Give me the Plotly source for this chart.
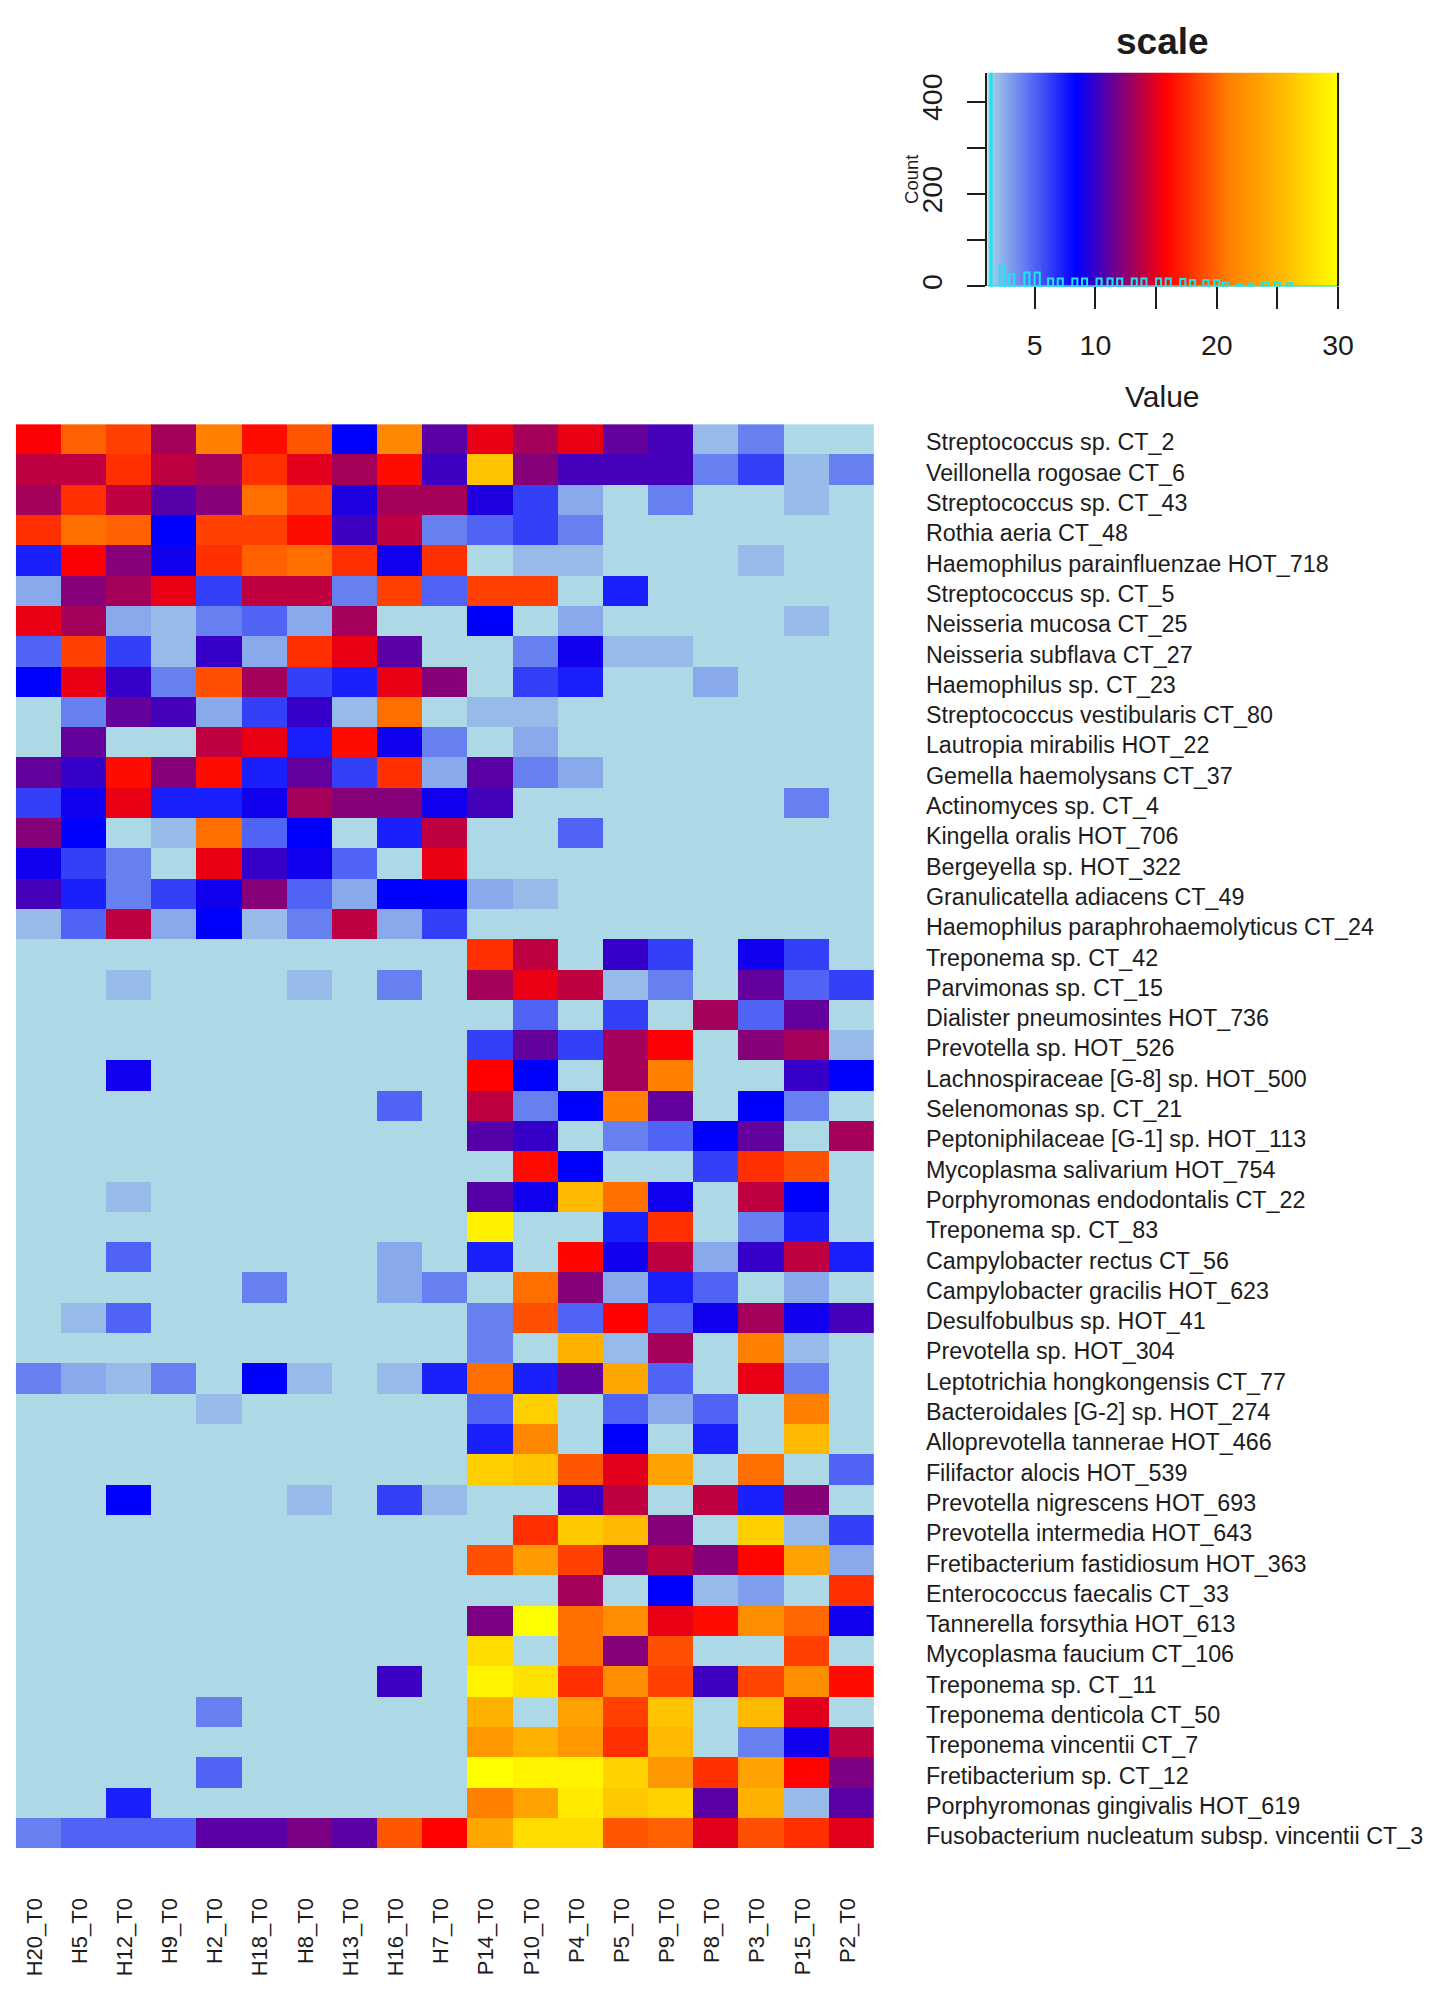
import numpy as np
import plotly.graph_objects as go

W, H = 1449, 1989

samples = ["H20_T0","H5_T0","H12_T0","H9_T0","H2_T0","H18_T0","H8_T0","H13_T0","H16_T0","H7_T0",
           "P14_T0","P10_T0","P4_T0","P5_T0","P9_T0","P8_T0","P3_T0","P15_T0","P2_T0"]

taxa = ["Streptococcus sp. CT_2","Veillonella rogosae CT_6","Streptococcus sp. CT_43","Rothia aeria CT_48",
        "Haemophilus parainfluenzae HOT_718","Streptococcus sp. CT_5","Neisseria mucosa CT_25",
        "Neisseria subflava CT_27","Haemophilus sp. CT_23","Streptococcus vestibularis CT_80",
        "Lautropia mirabilis HOT_22","Gemella haemolysans CT_37","Actinomyces sp. CT_4","Kingella oralis HOT_706",
        "Bergeyella sp. HOT_322","Granulicatella adiacens CT_49","Haemophilus paraphrohaemolyticus CT_24",
        "Treponema sp. CT_42","Parvimonas sp. CT_15","Dialister pneumosintes HOT_736","Prevotella sp. HOT_526",
        "Lachnospiraceae [G-8] sp. HOT_500","Selenomonas sp. CT_21","Peptoniphilaceae [G-1] sp. HOT_113",
        "Mycoplasma salivarium HOT_754","Porphyromonas endodontalis CT_22","Treponema sp. CT_83",
        "Campylobacter rectus CT_56","Campylobacter gracilis HOT_623","Desulfobulbus sp. HOT_41",
        "Prevotella sp. HOT_304","Leptotrichia hongkongensis CT_77","Bacteroidales [G-2] sp. HOT_274",
        "Alloprevotella tannerae HOT_466","Filifactor alocis HOT_539","Prevotella nigrescens HOT_693",
        "Prevotella intermedia HOT_643","Fretibacterium fastidiosum HOT_363","Enterococcus faecalis CT_33",
        "Tannerella forsythia HOT_613","Mycoplasma faucium CT_106","Treponema sp. CT_11","Treponema denticola CT_50",
        "Treponema vincentii CT_7","Fretibacterium sp. CT_12","Porphyromonas gingivalis HOT_619",
        "Fusobacterium nucleatum subsp. vincentii CT_3"]

values = [
 [15.7,19.7,18.4,13.2,21,16.3,19.3,8.4,21.5,11,15.2,13.2,15.2,11.3,10.4,2,4,1,1],
 [13.9,13.9,17.7,13.9,13.2,17.7,15,13.2,16.3,10.2,26,12.3,10.4,10.4,10.4,4,6.2,2,4],
 [13.2,17.7,13.9,10.9,12.3,20.3,18.4,9.3,13.2,13.2,9.3,6.2,2.6,1,4,1,1,2,1],
 [17.7,20.3,19.7,8.4,18.4,18.4,16.3,10.2,13.9,4,5,6.2,4,1,1,1,1,1,1],
 [7.3,15.7,12.3,8.9,17.7,19.7,20.3,17.7,8.9,17.7,1,2,2,1,1,1,2,1,1],
 [2.6,12.3,13.2,15.2,6.2,13.9,13.9,4,18.4,5,18.4,18.4,1,7.3,1,1,1,1,1],
 [15.2,13.2,2.6,2,4,5,2.6,13.2,1,1,8.4,1,2.6,1,1,1,1,2,1],
 [5,18.4,6.2,2,10,2.6,17.7,15.2,11,1,1,4,8.9,2,2,1,1,1,1],
 [8.4,15.2,10,4,19,13.2,6.2,7.3,15.2,12.3,1,6.2,7.3,1,1,2.6,1,1,1],
 [1,4,11.3,10.4,2.6,6.2,10,2,20.3,1,2,2,1,1,1,1,1,1,1],
 [1,11.3,1,1,13.9,15.2,7.3,16.3,8.9,4,1,2.6,1,1,1,1,1,1,1],
 [11.3,10,16.3,12.3,16.3,7.3,11.3,6.2,17.7,2.6,11,4,2.6,1,1,1,1,1,1],
 [6.2,8.9,15.2,7.3,7.3,8.9,13.2,12.3,12.3,8.9,10.4,1,1,1,1,1,1,4,1],
 [12.3,8.4,1,2,20.3,5,8.4,1,7.3,13.9,1,1,5,1,1,1,1,1,1],
 [8.9,6.2,4,1,15.2,10,8.9,5,1,15.2,1,1,1,1,1,1,1,1,1],
 [10.4,7.3,4,6.2,8.9,12.3,5,2.6,8.4,8.4,2.6,2,1,1,1,1,1,1,1],
 [2,5,13.9,2.6,8.4,2,4,13.9,2.6,6.2,1,1,1,1,1,1,1,1,1],
 [1,1,1,1,1,1,1,1,1,1,17.7,13.9,1,10,6.2,1,8.9,6.2,1],
 [1,1,2,1,1,1,2,1,4,1,13.2,15.2,13.9,2,4,1,11.3,5,6.2],
 [1,1,1,1,1,1,1,1,1,1,1,5,1,6.2,1,13.2,5,11.3,1],
 [1,1,1,1,1,1,1,1,1,1,6.2,11.3,6.2,13.2,15.7,1,12.3,13.2,2],
 [1,1,8.9,1,1,1,1,1,1,1,15.9,8.4,1,13.2,21,1,1,10,8.4],
 [1,1,1,1,1,1,1,1,5,1,13.9,4,8.4,21,11.3,1,8.4,4,1],
 [1,1,1,1,1,1,1,1,1,1,10.9,10,1,4,5,8.4,11.3,1,13.2],
 [1,1,1,1,1,1,1,1,1,1,1,16.2,8.4,1,1,6.2,17.7,19,1],
 [1,1,2,1,1,1,1,1,1,1,10.9,8.9,25.3,20.3,8.9,1,13.9,8.4,1],
 [1,1,1,1,1,1,1,1,1,1,29,1,1,7.3,17.7,1,4,7.3,1],
 [1,1,5,1,1,1,1,1,2.6,1,7.3,1,16,8.9,13.9,2.6,10,13.9,7.3],
 [1,1,1,1,1,4,1,1,2.6,4,1,20.3,12.3,2.6,7.3,5,1,2.6,1],
 [1,2,5,1,1,1,1,1,1,1,4,19,5,15.9,5,8.9,13.2,8.9,10.4],
 [1,1,1,1,1,1,1,1,1,1,4,1,24.8,2,13.2,1,21,2,1],
 [4,2.6,2,4,1,8.4,2,1,2,7.3,20.3,7.3,11.3,24,5,1,15.2,4,1],
 [1,1,1,1,2,1,1,1,1,1,5,26.8,1,5,2.6,5,1,21,1],
 [1,1,1,1,1,1,1,1,1,1,7.3,21.5,1,8.4,1,7.3,1,25.3,1],
 [1,1,1,1,1,1,1,1,1,1,26.8,26,19.3,15,23.5,1,20.3,1,5],
 [1,1,8.4,1,1,1,2,1,6.2,2,1,1,10,13.9,1,13.9,7.3,12.3,1],
 [1,1,1,1,1,1,1,1,1,1,1,17.7,26.4,25.3,12.3,1,26.8,2,6.2],
 [1,1,1,1,1,1,1,1,1,1,19,23,18.4,12.3,13.9,12.3,16,23.5,2.6],
 [1,1,1,1,1,1,1,1,1,1,1,1,13.2,1,8.4,2,3,1,17.7],
 [1,1,1,1,1,1,1,1,1,1,12,30,20.3,22,15.2,16.2,22,20,8.9],
 [1,1,1,1,1,1,1,1,1,1,27.6,1,20.3,12.3,19,1,1,18.4,1],
 [1,1,1,1,1,1,1,1,10.1,1,29.2,28,17.7,22,18.4,10.2,18.6,22,16.2],
 [1,1,1,1,4,1,1,1,1,1,24.8,1,23.5,18.4,26,1,25.3,15,1],
 [1,1,1,1,1,1,1,1,1,1,22.8,24.8,22.8,17.7,25.3,1,4,8.9,13.9],
 [1,1,1,1,5,1,1,1,1,1,30,29.2,29.2,27,22.8,17.7,23.5,16,12],
 [1,1,7.3,1,1,1,1,1,1,1,21,23.5,28.6,26.4,27,11,24.8,2,11],
 [4,5,5,5,11,11,12,11,19.3,15.9,24,27.6,27.6,19.3,19.7,15,19,17.7,15],
]
assert len(values) == len(taxa) and all(len(r) == len(samples) for r in values)

# histogram drawn inside the colour key: bin centres and counts
hist_bins = [1.4,2.3,3.1,4.35,5.2,6.3,7.1,8.3,9.1,10.3,11.2,12.0,13.2,14.0,15.2,16.0,17.2,18.0,19.1,20.0,20.7,21.9,22.8,24.0,25.0,26.0]
hist_counts = [480,44,26,30,30,17,17,17,17,17,17,17,17,17,17,17,16,14,14,14,8,4,6,8,8,7]

key_ticks = [5, 10, 15, 20, 25, 30]
key_ticklabels = ["5", "10", "", "20", "", "30"]
count_ticks = [0, 100, 200, 300, 400]
count_ticklabels = ["0", "", "200", "", "400"]

ZMIN, ZMAX = 1, 30
def stop(v): return (v - ZMIN) / (ZMAX - ZMIN)
colorscale = [[0, "#ADD8E6"], [stop(8.4), "#0000FF"], [stop(15.8), "#FF0000"],
              [stop(21), "#FF8000"], [stop(25), "#FFB400"], [1, "#FFFF00"]]

INK = "#1c1c1c"
FONT = "Liberation Sans"

fig = go.Figure()
fig.add_trace(go.Heatmap(z=values, x=samples, y=taxa, zmin=ZMIN, zmax=ZMAX, colorscale=colorscale,
                         showscale=False, xaxis="x", yaxis="y"))
grad = np.linspace(1.1, 30, 300)
fig.add_trace(go.Heatmap(z=[grad, grad], x=grad, y=[0, 462], zmin=ZMIN, zmax=ZMAX, colorscale=colorscale,
                         showscale=False, xaxis="x2", yaxis="y2"))
bar_widths = [0.08] + [0.42] * (len(hist_bins) - 1)
fig.add_trace(go.Bar(x=hist_bins, y=hist_counts, width=bar_widths, xaxis="x2", yaxis="y2",
                     marker=dict(color="rgba(0,0,0,0)", line=dict(color="#19E6F0", width=2))))
fig.add_trace(go.Scatter(x=[1.1, 30], y=[0, 0], mode="lines", xaxis="x2", yaxis="y2",
                         line=dict(color="#19E6F0", width=2.5), hoverinfo="skip"))

def fx(p): return p / W
def fy(p): return 1 - p / H

fig.update_layout(
    width=W, height=H, margin=dict(l=0, r=0, t=0, b=0), paper_bgcolor="white", plot_bgcolor="white",
    showlegend=False, font=dict(family=FONT, color=INK),
    xaxis=dict(domain=[fx(16), fx(884)], anchor="y", type="category", side="bottom", showgrid=False,
               zeroline=False, ticks="outside", ticklen=40, tickcolor="white", tickwidth=0,
               tickangle=-90, tickfont=dict(size=22, family=FONT, color=INK), showline=False,
               ticklabelshift=-4),
    yaxis=dict(domain=[fy(1852), fy(425)], anchor="x", type="category", side="right", autorange="reversed",
               showgrid=False, zeroline=False, ticks="outside", ticklen=46, tickcolor="white", tickwidth=0,
               tickfont=dict(size=23.3, family=FONT, color=INK), showline=False, ticklabelshift=-3),
    xaxis2=dict(domain=[fx(998.5), fx(1353)], anchor="y2", range=[1.1, 30], tickmode="array",
                tickvals=key_ticks, ticktext=key_ticklabels, ticks="outside", ticklen=22, tickwidth=2,
                tickcolor=INK, showgrid=False, zeroline=False, showline=False,
                tickfont=dict(size=28.5, family=FONT, color=INK), ticklabelstandoff=11),
    yaxis2=dict(domain=[fy(287), fy(73)], anchor="x2", range=[0, 462], tickmode="array",
                tickvals=count_ticks, ticktext=count_ticklabels, ticks="outside", ticklen=18, tickwidth=2,
                tickcolor=INK, tickangle=-90, showgrid=False, zeroline=False, showline=True,
                linecolor=INK, linewidth=2,
                tickfont=dict(size=28.5, family=FONT, color=INK), ticklabelstandoff=14),
    shapes=[dict(type="line", xref="x2 domain", yref="y2 domain", x0=1, x1=1, y0=0, y1=1,
                 line=dict(color=INK, width=2))],
    annotations=[
        dict(text="<b>scale</b>", x=fx(1175.5), y=fy(42), xref="paper", yref="paper", showarrow=False,
             font=dict(size=37, family=FONT, color=INK), xanchor="center", yanchor="middle"),
        dict(text="Value", x=fx(1175.5), y=fy(397), xref="paper", yref="paper", showarrow=False,
             font=dict(size=30, family=FONT, color=INK), xanchor="center", yanchor="middle"),
        dict(text="Count", x=fx(921.5), y=fy(180), xref="paper", yref="paper", showarrow=False, textangle=-90,
             font=dict(size=18.5, family=FONT, color=INK), xanchor="center", yanchor="middle"),
    ],
)

fig.write_html("out.html", config=dict(displayModeBar=False),
               post_script="document.body.style.margin='0';")
